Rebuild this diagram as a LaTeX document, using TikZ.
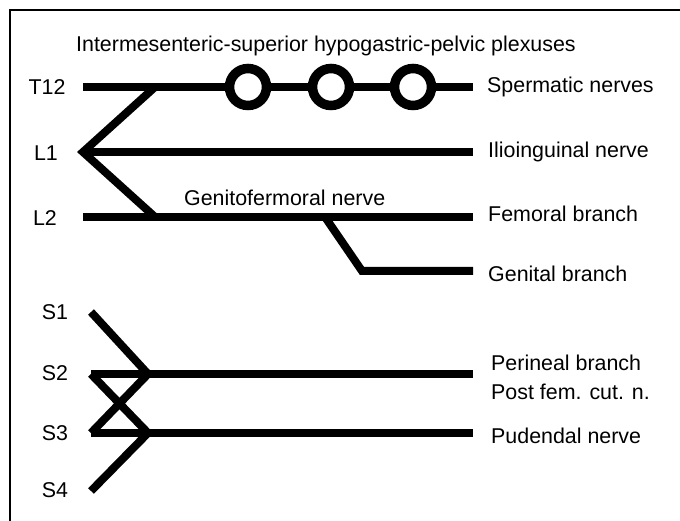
\documentclass[tikz,border=0pt]{standalone}
\usepackage{fontspec}
\setmainfont{Liberation Sans}
\begin{document}
\begin{tikzpicture}[x=1pt,y=-1pt,
  nerve/.style={line width=8pt, line join=miter},
  lbl/.style={font=\fontsize{21.4}{25}\selectfont, inner sep=0pt},
  rlbl/.style={lbl, anchor=west},
  ganglion/.style={circle, draw, line width=9.5pt, fill=white, minimum size=37pt, inner sep=0pt}]
\useasboundingbox (0,0) rectangle (680,521);
\draw[line width=1.5pt] (10,521) -- (10,10) -- (681,10);
% title
\node[lbl, anchor=west] (title) at (76,46) {Intermesenteric-superior hypogastric-pelvic plexuses};
% segment labels
\node[lbl] (t12) at (47,87) {T12};
\node[lbl] (l1) at (46,153) {L1};
\node[lbl] (l2) at (45,218) {L2};
\node[lbl] (s1) at (55,312) {S1};
\node[lbl] (s2) at (55,373) {S2};
\node[lbl] (s3) at (55,433) {S3};
\node[lbl] (s4) at (55,490) {S4};
% right labels
\node[rlbl] (sperm) at (487,87) {Spermatic nerves};
\node[rlbl] (ilio) at (488,152) {Ilioinguinal nerve};
\node[rlbl] (fem) at (488,214) {Femoral branch};
\node[rlbl] (gen) at (488,274) {Genital branch};
\node[rlbl] (genfem) at (184,198) {Genitofermoral nerve};
\node[rlbl] (peri) at (491,363) {Perineal branch};
\node[rlbl] (post) at (491,392) {Post fem. cut. n.};
\node[rlbl] (pud) at (491,436) {Pudendal nerve};
% lumbar coordinates
\coordinate (t12a) at (83,87);
\coordinate (t12j) at (155,87);
\coordinate (t12b) at (473,87);
\coordinate (l1v) at (83,152);
\coordinate (l1b) at (473,152);
\coordinate (l2a) at (83,217);
\coordinate (l2j) at (155,217);
\coordinate (l2k) at (325,217);
\coordinate (l2b) at (473,217);
\coordinate (genk) at (362,271);
\coordinate (genb) at (473,271);
% lumbar nerves
\draw[nerve] (t12a) -- (t12b);
\draw[nerve] (t12j) -- (l1v) -- (l2j);
\draw[nerve] (l1v) -- (l1b);
\draw[nerve] (l2a) -- (l2b);
\draw[nerve] (l2k) -- (genk) -- (genb);
% ganglia
\node[ganglion] (g1) at (248,87) {};
\node[ganglion] (g2) at (331,87) {};
\node[ganglion] (g3) at (413,87) {};
% sacral coordinates
\coordinate (s1a) at (91,312);
\coordinate (s2a) at (91,374);
\coordinate (s2j) at (148,374);
\coordinate (s2b) at (473,374);
\coordinate (s3a) at (91,433);
\coordinate (s3j) at (148,433);
\coordinate (s3b) at (473,433);
\coordinate (s4a) at (91,491);
% sacral nerves
\draw[nerve] (s1a) -- (s2j);
\draw[nerve] (s2a) -- (s2b);
\draw[nerve] (s2a) -- (s3j);
\draw[nerve] (s3a) -- (s3b);
\draw[nerve] (s3a) -- (s2j);
\draw[nerve] (s4a) -- (s3j);
\end{tikzpicture}
\end{document}
